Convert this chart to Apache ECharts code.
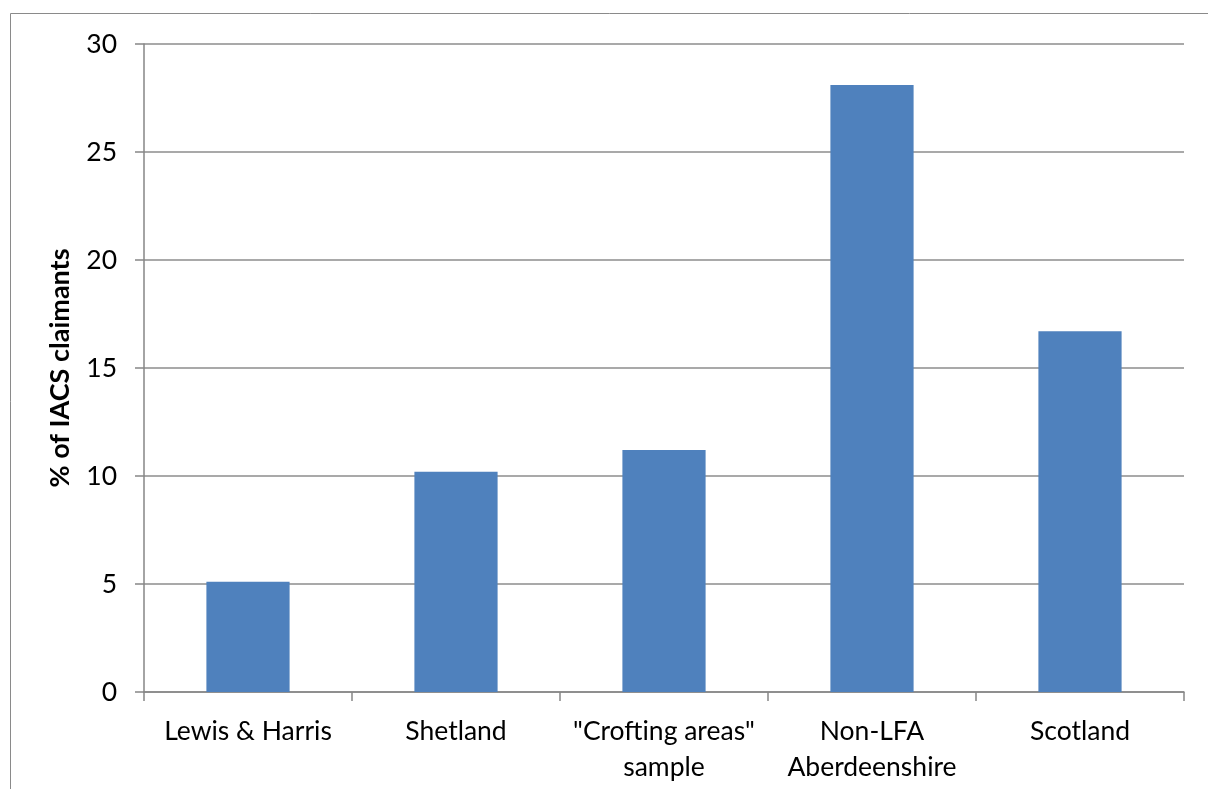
<!DOCTYPE html>
<html>
<head>
<meta charset="utf-8">
<script src="https://cdn.jsdelivr.net/npm/echarts@6/dist/echarts.min.js"></script>
<style>
  html, body { margin: 0; padding: 0; background: #fff; }
  #chart { width: 1208px; height: 789px; }
</style>
</head>
<body>
<div id="chart"></div>
<script>
// Share of IACS claimants by area
const categories = ['Lewis & Harris', 'Shetland', '"Crofting areas"\nsample', 'Non-LFA\nAberdeenshire', 'Scotland'];
const claimantShare = [5.1, 10.2, 11.2, 28.1, 16.7];
const yAxisTitle = '% of IACS claimants';

const chart = echarts.init(document.getElementById('chart'), null, { renderer: 'canvas' });
const font = 'Lato, "Open Sans", sans-serif';

chart.setOption({
  animation: false,
  backgroundColor: '#ffffff',
  graphic: [{
    type: 'rect',
    shape: { x: 10.5, y: 13.5, width: 1400, height: 1000 },
    style: { fill: 'none', stroke: '#8a8a8a', lineWidth: 1 },
    silent: true
  }],
  grid: { left: 144, right: 24, top: 44, bottom: 97, containLabel: false },
  xAxis: {
    type: 'category',
    data: categories,
    boundaryGap: true,
    axisLine: { lineStyle: { color: '#868686', width: 1.5 } },
    axisTick: { show: true, length: 9, alignWithLabel: false, lineStyle: { color: '#868686', width: 1.5 } },
    axisLabel: { color: '#000', fontFamily: font, fontSize: 26.5, margin: 21, lineHeight: 36, interval: 0 }
  },
  yAxis: {
    type: 'value',
    min: 0, max: 30, interval: 5,
    name: yAxisTitle,
    nameLocation: 'middle',
    nameGap: 70,
    nameRotate: 90,
    nameTextStyle: { color: '#000', fontFamily: font, fontSize: 27, fontWeight: 'bold' },
    axisLine: { show: true, lineStyle: { color: '#868686', width: 1.5 } },
    axisTick: { show: true, length: 9, lineStyle: { color: '#868686', width: 1.5 } },
    axisLabel: { color: '#000', fontFamily: font, fontSize: 26.5, margin: 27 },
    splitLine: { show: true, lineStyle: { color: '#8c8c8c', width: 1.5 } }
  },
  series: [{
    type: 'bar',
    data: claimantShare,
    barWidth: '40%',
    itemStyle: { color: '#4F81BD' }
  }]
});
</script>
</body>
</html>
